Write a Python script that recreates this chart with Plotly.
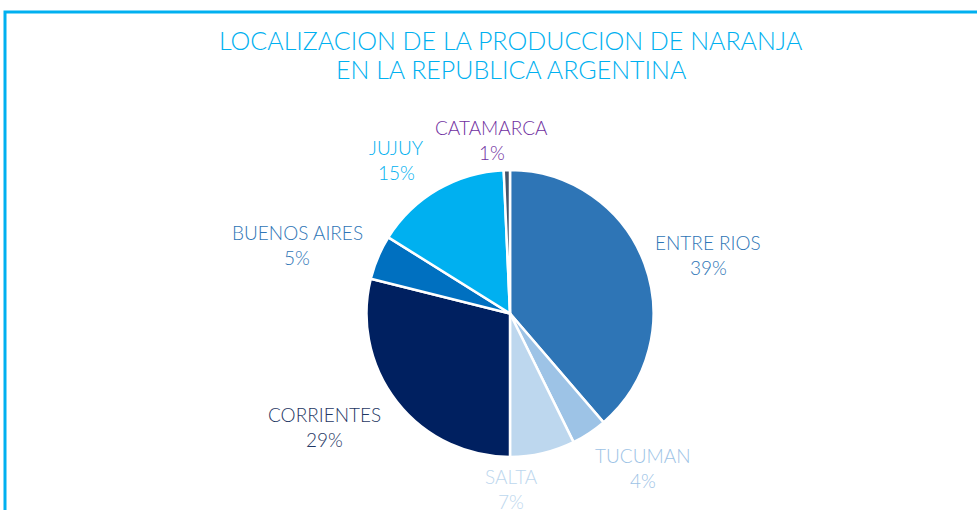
import plotly.graph_objects as go

W, H = 977, 510

# ---- data ----
provincias = ["ENTRE RIOS", "TUCUMAN", "SALTA", "CORRIENTES", "BUENOS AIRES", "JUJUY", "CATAMARCA"]
participacion = [38.7, 4.0, 7.3, 28.9, 5.0, 15.4, 0.7]
porcentajes = ["39%", "4%", "7%", "29%", "5%", "15%", "1%"]
titulo = ["LOCALIZACION DE LA PRODUCCION DE NARANJA", "EN LA REPUBLICA ARGENTINA"]

# ---- styles ----
slice_colors = ["#2E75B6", "#9DC3E6", "#BDD7EE", "#002060", "#0070C0", "#00B0F0", "#44546A"]
label_colors = ["#2E75B6", "#9DC3E6", "#BDD7EE", "#1F3864", "#2E75B6", "#00B0F0", "#7030A0"]
label_pos_px = [(708, 255), (643, 468), (511, 489), (324, 427), (297, 245), (396, 160), (492, 140)]

FONT = "Lato, 'Noto Sans', sans-serif"

def px(x, y):
    return x / W, 1 - y / H

cx, cy, r = 510, 313.5, 143.5
x0, y1 = px(cx - r, cy - r)
x1, y0 = px(cx + r, cy + r)

fig = go.Figure(go.Pie(
    labels=provincias,
    values=participacion,
    sort=False,
    direction="clockwise",
    rotation=0,
    marker=dict(colors=slice_colors, line=dict(color="white", width=2.5)),
    textinfo="none",
    hoverinfo="label+percent",
    showlegend=False,
    domain=dict(x=[x0, x1], y=[y0, y1]),
))

annotations = []
for name, pct, col, (lx, ly) in zip(provincias, porcentajes, label_colors, label_pos_px):
    for txt, dy in ((name, -12.5), (pct, 12.5)):
        ax, ay = px(lx, ly + dy)
        annotations.append(dict(
            x=ax, y=ay, xref="paper", yref="paper",
            text=txt, showarrow=False,
            xanchor="center", yanchor="middle", align="center",
            font=dict(family=FONT, size=19, color=col, weight=300),
        ))

for txt, ty in zip(titulo, (40, 69)):
    ax, ay = px(511, ty)
    annotations.append(dict(
        x=ax, y=ay, xref="paper", yref="paper",
        text=txt, showarrow=False, xanchor="center", yanchor="middle",
        font=dict(family=FONT, size=25, color="#00B0F0", weight=300),
    ))

bx, by_bot = px(5, H + 5)
_, by_top = px(5, 12)
bx2, _ = px(W + 5, 12)

fig.update_layout(
    width=W, height=H,
    margin=dict(l=0, r=0, t=0, b=0),
    paper_bgcolor="white", plot_bgcolor="white",
    annotations=annotations,
    shapes=[dict(
        type="path", xref="paper", yref="paper",
        path=f"M {bx} {by_bot} L {bx} {by_top} L {bx2} {by_top}",
        line=dict(color="#00B0F0", width=3),
    )],
)

fig.write_html(
    "out.html",
    config={"displayModeBar": False},
    post_script="document.body.style.margin='0';document.body.style.overflow='hidden';",
)
